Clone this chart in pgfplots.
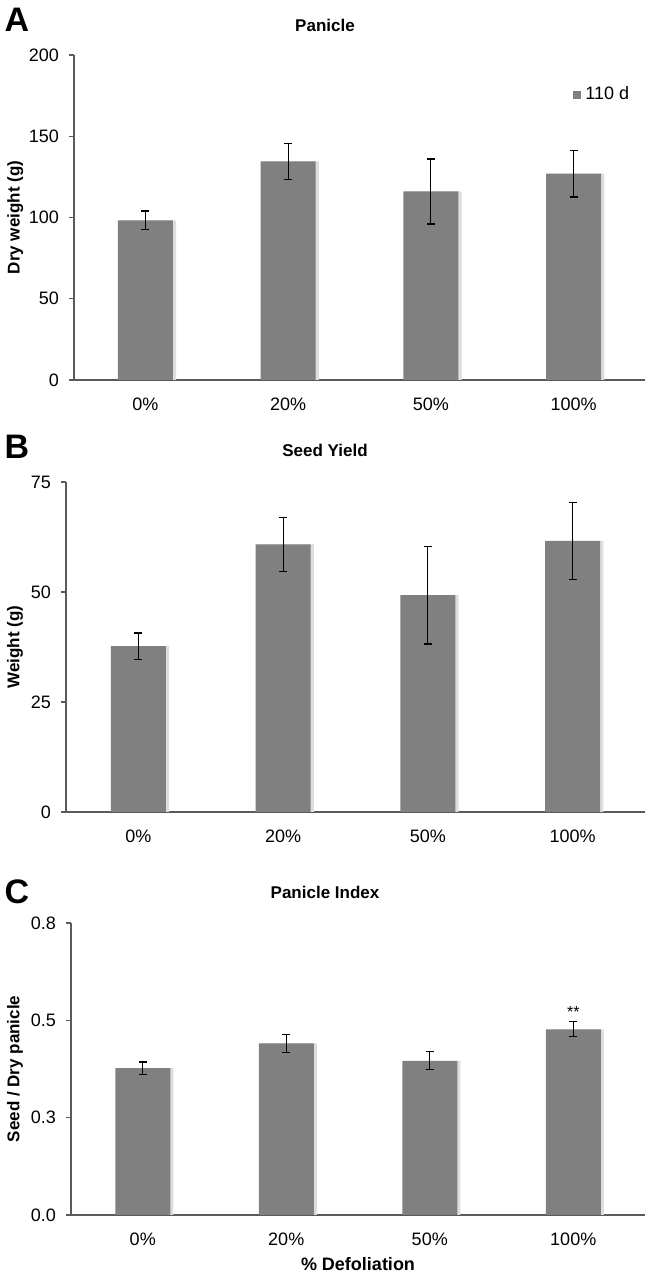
\documentclass[border=0pt]{standalone}
\usepackage{pgfplots}
\pgfplotsset{compat=1.18}
\usepackage{fontspec}
\setmainfont{Liberation Sans}
\definecolor{barg}{HTML}{808080}
\definecolor{shad}{HTML}{DDDDDD}
\definecolor{axg}{HTML}{5A5A5A}
\pgfplotsset{
  panel/.style={
    scale only axis, anchor=north west,
    xmin=-0.5, xmax=3.5, ymin=0,
    axis x line*=bottom, axis y line*=left,
    axis line style={axg, line width=0.6pt},
    xtick={0,1,2,3}, xticklabels={0\%,20\%,50\%,100\%},
    tick align=outside, major tick length=2.5pt,
    xtick style={draw=none},
    ytick style={axg, line width=0.6pt},
    tick label style={font=\fontsize{9}{10}\selectfont},
    /pgf/number format/assume math mode=true,
    xticklabel style={yshift=-2.8pt},
    yticklabel style={xshift=-1.5pt},
    ylabel style={anchor=center, font=\bfseries\fontsize{8.5}{10}\selectfont},
  },
  shadowbar/.style={ybar, bar width=27.5pt, bar shift=1.6pt, fill=shad, draw=none, forget plot},
  mainbar/.style={ybar, bar width=27.5pt, bar shift=0pt, fill=barg, draw=none,
    error bars/.cd, y dir=both, y explicit,
    error bar style={black, line width=0.6pt},
    error mark options={rotate=90, black, mark size=2pt, line width=0.6pt}},
}
\begin{document}
\begin{tikzpicture}
\path[use as bounding box] (0,0) rectangle (326pt,-638.5pt);
% Panel A
\node[font=\bfseries\fontsize{17}{18}\selectfont] at (8.5pt,-10pt) {A};
\node[font=\bfseries\fontsize{8.5}{10}\selectfont] at (162.5pt,-12.5pt) {Panicle};
\begin{axis}[panel, at={(37pt,-27.5pt)}, width=285.5pt, height=162.5pt,
  ymax=200, ytick={0,50,100,150,200},
  ylabel={Dry weight (g)},
  ylabel style={at={(axis description cs:-0.103,0.5)}},
  legend style={draw=none, fill=none, at={(axis description cs:0.874,0.877)}, anchor=west,
    font=\fontsize{9}{10}\selectfont, inner sep=0pt},
  legend image code/.code={\fill[barg] (0pt,-2pt) rectangle (4pt,2pt);},
]
\addplot[shadowbar] coordinates {(0,98.3) (1,134.6) (2,116) (3,127)};
\addplot[mainbar] coordinates {(0,98.3) +- (0,5.7) (1,134.6) +- (0,11.1) (2,116) +- (0,20) (3,127) +- (0,14.4)};
\addlegendentry{110 d}
\end{axis}
% Panel B
\node[font=\bfseries\fontsize{17}{18}\selectfont] at (8.5pt,-223.5pt) {B};
\node[font=\bfseries\fontsize{8.5}{10}\selectfont] at (162.5pt,-225pt) {Seed Yield};
\begin{axis}[panel, at={(33pt,-241pt)}, width=289.5pt, height=165pt,
  ymax=75, ytick={0,25,50,75},
  ylabel={Weight (g)},
  ylabel style={at={(axis description cs:-0.088,0.5)}},
]
\addplot[shadowbar] coordinates {(0,37.7) (1,60.8) (2,49.3) (3,61.6)};
\addplot[mainbar] coordinates {(0,37.7) +- (0,3.0) (1,60.8) +- (0,6.1) (2,49.3) +- (0,11.1) (3,61.6) +- (0,8.7)};
\end{axis}
% Panel C
\node[font=\bfseries\fontsize{17}{18}\selectfont] at (8.5pt,-446pt) {C};
\node[font=\bfseries\fontsize{8.5}{10}\selectfont] at (162.5pt,-446pt) {Panicle Index};
\begin{axis}[panel, at={(35.5pt,-461.5pt)}, width=287pt, height=146pt,
  ymax=0.75, ytick={0,0.25,0.5,0.75}, yticklabels={0.0,0.3,0.5,0.8},
  ylabel={Seed / Dry panicle},
  ylabel style={at={(axis description cs:-0.0976,0.5)}},
  xlabel={\% Defoliation},
  xlabel style={at={(axis description cs:0.5,0)}, anchor=center, yshift=-24.5pt,
    font=\bfseries\fontsize{9}{10}\selectfont},
]
\addplot[shadowbar] coordinates {(0,0.377) (1,0.441) (2,0.396) (3,0.477)};
\addplot[mainbar] coordinates {(0,0.377) +- (0,0.016) (1,0.441) +- (0,0.023) (2,0.396) +- (0,0.023) (3,0.477) +- (0,0.019)};
\node[font=\fontsize{8}{9}\selectfont] at (axis cs:3,0.522) {**};
\end{axis}
\end{tikzpicture}
\end{document}
